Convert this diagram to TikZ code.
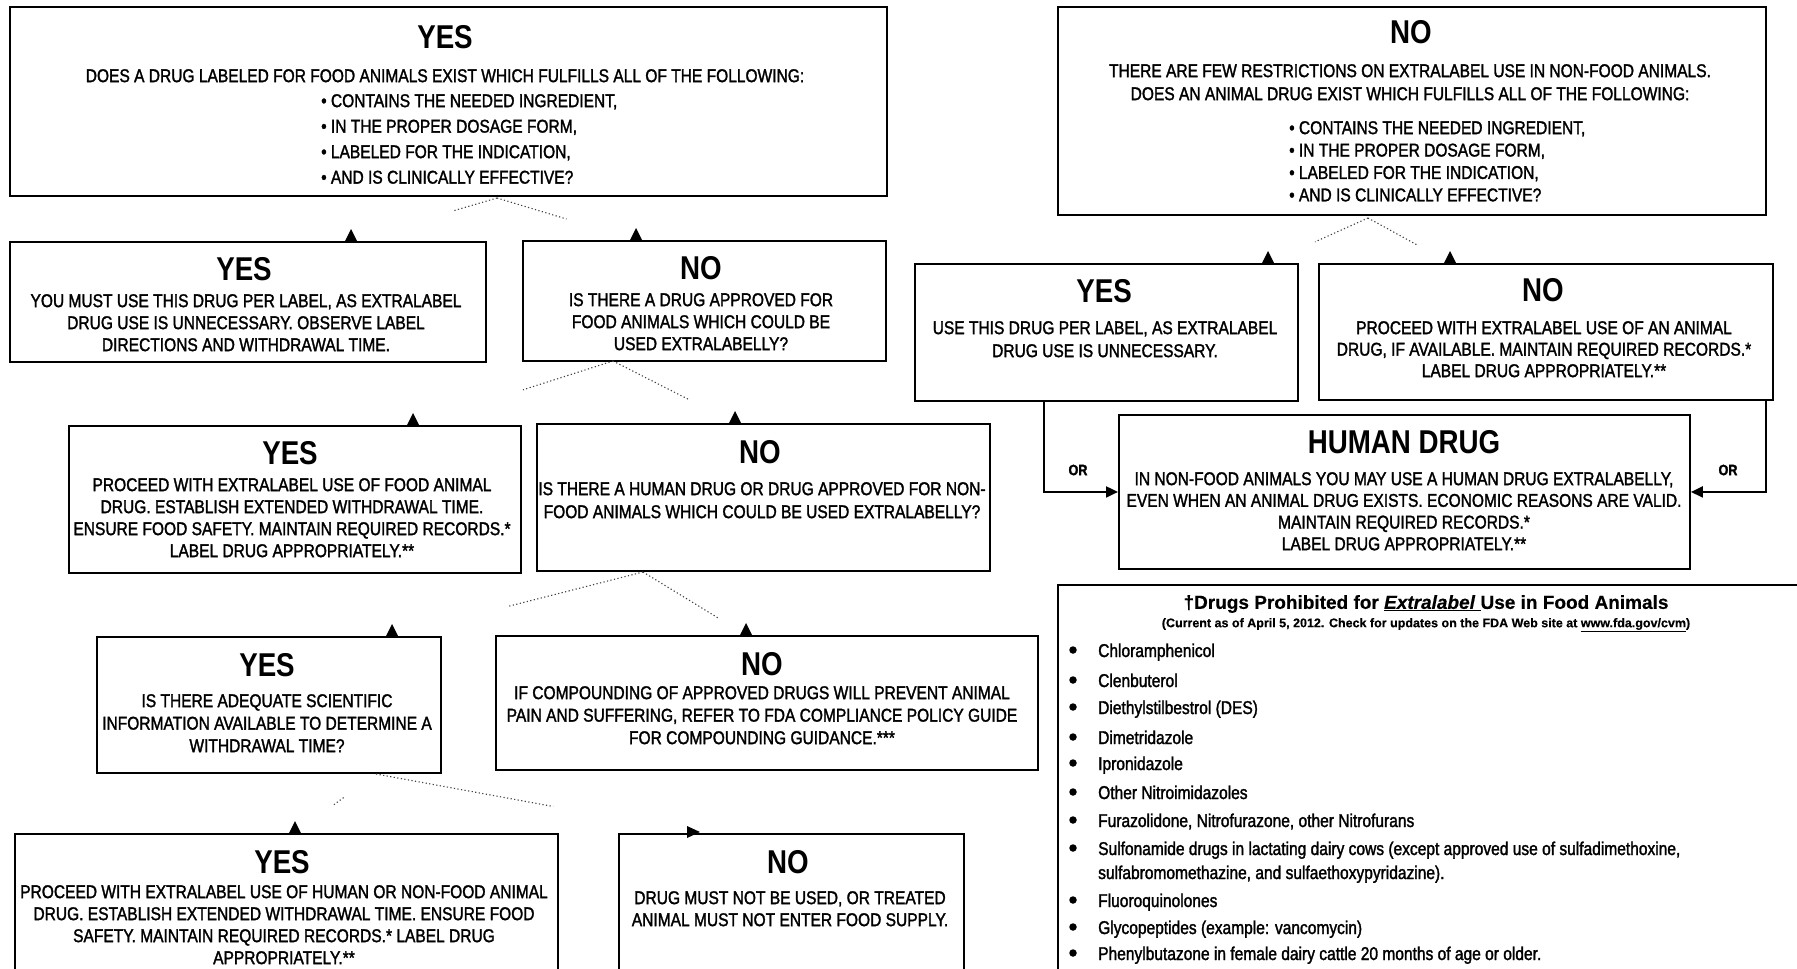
\documentclass[tikz,border=0pt]{standalone}
\usepackage{fontspec}
\setmainfont{Liberation Sans}
\newfontfamily\titlef[FakeStretch=0.84]{Liberation Sans}
\newfontfamily\bodyf[FakeStretch=0.84,FakeBold=1.6]{Liberation Sans}
\newfontfamily\headf[FakeBold=0.4]{Liberation Sans}
\usetikzlibrary{calc,arrows.meta}
\tikzset{
  box/.style={draw, line width=1.9pt, inner sep=0, anchor=north west},
  ttl/.style={font=\titlef\bfseries\fontsize{33}{33}\selectfont, inner sep=0, anchor=center},
  body/.style={font=\bodyf\fontsize{18.5}{22}\selectfont, align=center, inner sep=0, anchor=north},
  bull/.style={font=\bodyf\fontsize{18.5}{25.5}\selectfont, align=left, inner sep=0, anchor=north west},
  orlab/.style={font=\bodyf\bfseries\fontsize{15}{15}\selectfont, inner sep=0},
  dotline/.style={line width=1.1pt, dash pattern=on 1.2pt off 2.4pt, black!75},
  orline/.style={line width=2pt, -{Triangle[length=12pt,width=11pt]}},
  item/.style={font=\bodyf\fontsize{18.5}{22}\selectfont, inner sep=0, anchor=base west},
  dot/.style={circle, fill, inner sep=0, minimum size=7.5pt},
  uptip/.pic={\fill (-6,0) -- (0,-12) -- (6,0) -- cycle;},
  righttip/.pic={\fill (-11,-7) -- (2,-1) -- (-11,5) -- cycle;}
}
\begin{document}
\begin{tikzpicture}[x=1pt,y=-1pt]
\useasboundingbox (0,0) rectangle (1797,969);
\clip (0,0) rectangle (1797,969);
\fill[white] (0,0) rectangle (1797,969);

% ---------------- boxes ----------------
\node[box, minimum width=877pt, minimum height=189pt] (B1) at (9,6) {};
\node[box, minimum width=708pt, minimum height=208pt] (B2) at (1057,6) {};
\node[box, minimum width=476pt, minimum height=120pt] (B3) at (9,241) {};
\node[box, minimum width=363pt, minimum height=120pt] (B4) at (522,240) {};
\node[box, minimum width=452pt, minimum height=147pt] (B5) at (68,425) {};
\node[box, minimum width=453pt, minimum height=147pt] (B6) at (536,423) {};
\node[box, minimum width=344pt, minimum height=136pt] (B7) at (96,636) {};
\node[box, minimum width=542pt, minimum height=134pt] (B8) at (495,635) {};
\node[box, minimum width=543pt, minimum height=200pt] (B9) at (14,833) {};
\node[box, minimum width=345pt, minimum height=200pt] (B10) at (618,833) {};
\node[box, minimum width=383pt, minimum height=137pt] (B11) at (914,263) {};
\node[box, minimum width=454pt, minimum height=136pt] (B12) at (1318,263) {};
\node[box, minimum width=571pt, minimum height=154pt] (B13) at (1118,414) {};
\node[box, minimum width=740pt, minimum height=420pt] (B14) at (1057,584) {};

% ---------------- texts ----------------
\node[ttl] (B1h) at (445,37) {YES};
\node[body] (B1q) at (445,69) {DOES A DRUG LABELED FOR FOOD ANIMALS EXIST WHICH FULFILLS ALL OF THE FOLLOWING:};
\node[bull] (B1b) at (321,94) {\textbullet\ CONTAINS THE NEEDED INGREDIENT,\\ \textbullet\ IN THE PROPER DOSAGE FORM,\\ \textbullet\ LABELED FOR THE INDICATION,\\ \textbullet\ AND IS CLINICALLY EFFECTIVE?};

\node[ttl] (B2h) at (1411,32) {NO};
\node[body, font=\bodyf\fontsize{18.5}{23}\selectfont] (B2q) at (1410,64) {THERE ARE FEW RESTRICTIONS ON EXTRALABEL USE IN NON-FOOD ANIMALS.\\ DOES AN ANIMAL DRUG EXIST WHICH FULFILLS ALL OF THE FOLLOWING:};
\node[bull, font=\bodyf\fontsize{18.5}{22.4}\selectfont] (B2b) at (1289,121) {\textbullet\ CONTAINS THE NEEDED INGREDIENT,\\ \textbullet\ IN THE PROPER DOSAGE FORM,\\ \textbullet\ LABELED FOR THE INDICATION,\\ \textbullet\ AND IS CLINICALLY EFFECTIVE?};

\node[ttl] (B3h) at (244,269) {YES};
\node[body] (B3q) at (246,294) {YOU MUST USE THIS DRUG PER LABEL, AS EXTRALABEL\\ DRUG USE IS UNNECESSARY. OBSERVE LABEL\\ DIRECTIONS AND WITHDRAWAL TIME.};

\node[ttl] (B4h) at (701,268) {NO};
\node[body] (B4q) at (701,293) {IS THERE A DRUG APPROVED FOR\\ FOOD ANIMALS WHICH COULD BE\\ USED EXTRALABELLY?};

\node[ttl] (B5h) at (290,453) {YES};
\node[body] (B5q) at (292,478) {PROCEED WITH EXTRALABEL USE OF FOOD ANIMAL\\ DRUG. ESTABLISH EXTENDED WITHDRAWAL TIME.\\ ENSURE FOOD SAFETY. MAINTAIN REQUIRED RECORDS.*\\ LABEL DRUG APPROPRIATELY.**};

\node[ttl] (B6h) at (760,452) {NO};
\node[body, font=\bodyf\fontsize{18.5}{23}\selectfont] (B6q) at (762,482) {IS THERE A HUMAN DRUG OR DRUG APPROVED FOR NON-\\ FOOD ANIMALS WHICH COULD BE USED EXTRALABELLY?};

\node[ttl] (B7h) at (267,665) {YES};
\node[body, font=\bodyf\fontsize{18.5}{22.5}\selectfont] (B7q) at (267,694) {IS THERE ADEQUATE SCIENTIFIC\\ INFORMATION AVAILABLE TO DETERMINE A\\ WITHDRAWAL TIME?};

\node[ttl] (B8h) at (762,664) {NO};
\node[body, font=\bodyf\fontsize{18.5}{22.5}\selectfont] (B8q) at (762,686) {IF COMPOUNDING OF APPROVED DRUGS WILL PREVENT ANIMAL\\ PAIN AND SUFFERING, REFER TO FDA COMPLIANCE POLICY GUIDE\\ FOR COMPOUNDING GUIDANCE.***};

\node[ttl] (B9h) at (282,862) {YES};
\node[body] (B9q) at (284,885) {PROCEED WITH EXTRALABEL USE OF HUMAN OR NON-FOOD ANIMAL\\ DRUG. ESTABLISH EXTENDED WITHDRAWAL TIME. ENSURE FOOD\\ SAFETY. MAINTAIN REQUIRED RECORDS.* LABEL DRUG\\ APPROPRIATELY.**};

\node[ttl] (B10h) at (788,862) {NO};
\node[body] (B10q) at (790,891) {DRUG MUST NOT BE USED, OR TREATED\\ ANIMAL MUST NOT ENTER FOOD SUPPLY.};

\node[ttl] (B11h) at (1104,291) {YES};
\node[body, font=\bodyf\fontsize{18.5}{23}\selectfont] (B11q) at (1105,321) {USE THIS DRUG PER LABEL, AS EXTRALABEL\\ DRUG USE IS UNNECESSARY.};

\node[ttl] (B12h) at (1543,290) {NO};
\node[body, font=\bodyf\fontsize{18.5}{21.5}\selectfont] (B12q) at (1544,321) {PROCEED WITH EXTRALABEL USE OF AN ANIMAL\\ DRUG, IF AVAILABLE. MAINTAIN REQUIRED RECORDS.*\\ LABEL DRUG APPROPRIATELY.**};

\node[ttl] (B13h) at (1404,442) {HUMAN DRUG};
\node[body, font=\bodyf\fontsize{18.5}{21.7}\selectfont] (B13q) at (1404,472) {IN NON-FOOD ANIMALS YOU MAY USE A HUMAN DRUG EXTRALABELLY,\\ EVEN WHEN AN ANIMAL DRUG EXISTS. ECONOMIC REASONS ARE VALID.\\ MAINTAIN REQUIRED RECORDS.*\\ LABEL DRUG APPROPRIATELY.**};

% ---------------- prohibited list ----------------
\node[inner sep=0, font=\headf\bfseries\fontsize{19}{19}\selectfont] (L0) at (1426,604) {\textdagger Drugs Prohibited for \underline{\textit{Extralabel}\ }Use in Food Animals};
\node[inner sep=0, font=\headf\bfseries\fontsize{12.5}{12.5}\selectfont] (L00) at (1426,625) {(Current as of April 5, 2012. Check for updates on the FDA Web site at \underline{www.fda.gov/cvm})};
\node[dot] (d1) at (1073,650) {};  \node[item] (L1) at (1098,657) {Chloramphenicol};
\node[dot] (d2) at (1073,680) {};  \node[item] (L2) at (1098,687) {Clenbuterol};
\node[dot] (d3) at (1073,707) {};  \node[item] (L3) at (1098,714) {Diethylstilbestrol (DES)};
\node[dot] (d4) at (1073,737) {};  \node[item] (L4) at (1098,744) {Dimetridazole};
\node[dot] (d5) at (1073,763) {};  \node[item] (L5) at (1098,770) {Ipronidazole};
\node[dot] (d6) at (1073,792) {};  \node[item] (L6) at (1098,799) {Other Nitroimidazoles};
\node[dot] (d7) at (1073,820) {};  \node[item] (L7) at (1098,827) {Furazolidone, Nitrofurazone, other Nitrofurans};
\node[dot] (d8) at (1073,848) {};  \node[item] (L8) at (1098,855) {Sulfonamide drugs in lactating dairy cows (except approved use of sulfadimethoxine,};
\node[item] (L8b) at (1098,879) {sulfabromomethazine, and sulfaethoxypyridazine).};
\node[dot] (d9) at (1073,900) {};  \node[item] (L9) at (1098,907) {Fluoroquinolones};
\node[dot] (d10) at (1073,927) {}; \node[item] (L10) at (1098,934) {Glycopeptides (example: vancomycin)};
\node[dot] (d11) at (1073,953) {}; \node[item] (L11) at (1098,960) {Phenylbutazone in female dairy cattle 20 months of age or older.};

% ---------------- dotted decision connectors ----------------
\coordinate (v1) at (497,198);
\coordinate (t3) at (351,241); \coordinate (t4) at (636,240);
\draw[dotline] (v1) -- ($(v1)!0.30!(t3)$);
\draw[dotline] (v1) -- ($(v1)!0.50!(t4)$);
\pic at (t3) {uptip}; \pic at (t4) {uptip};

\coordinate (v2) at (613,361);
\coordinate (t5) at (413,425); \coordinate (t6) at (735,423);
\draw[dotline] (v2) -- ($(v2)!0.45!(t5)$);
\draw[dotline] (v2) -- ($(v2)!0.63!(t6)$);
\pic at (t5) {uptip}; \pic at (t6) {uptip};

\coordinate (v3) at (643,572);
\coordinate (t7) at (392,636); \coordinate (t8) at (746,635);
\draw[dotline] (v3) -- ($(v3)!0.54!(t7)$);
\draw[dotline] (v3) -- ($(v3)!0.73!(t8)$);
\pic at (t7) {uptip}; \pic at (t8) {uptip};

\coordinate (v4) at (376,774);
\coordinate (t9) at (295,833); \coordinate (t10) at (698,833);
\draw[dotline] ($(v4)!0.40!(t9)$) -- ($(v4)!0.52!(t9)$);
\draw[dotline] (v4) -- ($(v4)!0.55!(t10)$);
\pic at (t9) {uptip}; \pic at (t10) {righttip};

\coordinate (v5) at (1368,218);
\coordinate (t11) at (1268,263); \coordinate (t12) at (1450,263);
\draw[dotline] (v5) -- ($(v5)!0.53!(t11)$);
\draw[dotline] (v5) -- ($(v5)!0.61!(t12)$);
\pic at (t11) {uptip}; \pic at (t12) {uptip};

% ---------------- OR connectors ----------------
\draw[orline] ([xshift=130pt]B11.south west) |- (B13.west);
\draw[orline] ([xshift=-8pt]B12.south east) |- (B13.east);
\node[orlab] (or1) at (1078,470) {OR};
\node[orlab] (or2) at (1728,470) {OR};
\end{tikzpicture}
\end{document}
